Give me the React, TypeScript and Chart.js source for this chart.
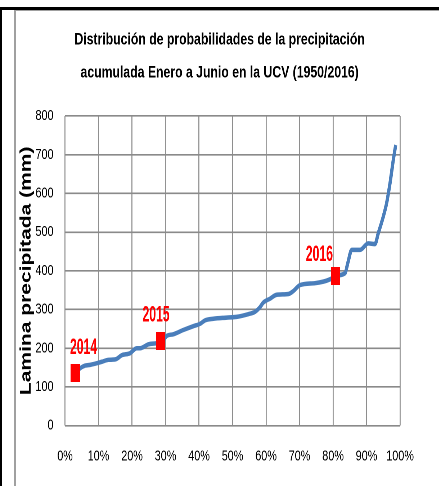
import React, { useEffect, useRef } from 'react';
import { Chart, registerables } from 'chart.js';

Chart.register(...registerables);

// ---- data ----
const PROBABILITY = [3.0, 4.5, 6.0, 7.5, 9.0, 11.0, 13.0, 15.0, 17.0, 19.4, 21.4, 22.4, 24.9, 27.4, 28.9, 30.4, 32.3, 35.3, 38.3, 40.3, 41.8, 44.3, 48.3, 51.2, 54.7, 56.7, 58.2, 59.2, 61.2, 63.2, 66.7, 68.2, 70.1, 74.6, 77.1, 79.1, 81.1, 83.6, 84.4, 85.6, 88.1, 90.5, 92.5, 93.5, 95.0, 96.0, 97.0, 98.0, 98.7];
const PRECIPITATION = [135, 148, 155, 157, 160, 165, 170, 171, 182, 187, 200, 200, 210, 213, 217, 232, 236, 247, 257, 263, 272, 276, 279, 281, 288, 294, 306, 318, 328, 338, 340, 348, 363, 368, 372, 378, 388, 394, 420, 454, 454, 471, 469, 497, 540, 575, 626, 687, 725];

const MARKER_YEARS = ['2014', '2015', '2016'];
const MARKER_PROBABILITY = [3.0, 28.5, 80.7];
const MARKER_PRECIPITATION = [136, 219, 387];

const TITLE_LINES = ['Distribución de probabilidades de la precipitación', 'acumulada Enero a Junio en la UCV (1950/2016)'];
const Y_TITLE = 'Lamina precipitada (mm)';

// ---- layout constants (pre-transform px) ----
const SCALE_X = 0.72;
const W = 610;
const H = 486;
const LABEL_OFFSETS = [[11.8, -19.2], [-6.2, -19.3], [-22.2, -15]];

function makeMarker() {
  const c = document.createElement('canvas');
  c.width = 13;
  c.height = 18;
  const g = c.getContext('2d')!;
  g.fillStyle = '#ff0000';
  g.fillRect(0, 0, 13, 18);
  return c;
}

const yearLabels = {
  id: 'yearLabels',
  afterDatasetsDraw(chart: any) {
    const meta = chart.getDatasetMeta(1);
    const ctx = chart.ctx;
    ctx.save();
    ctx.font = 'bold 22px "Liberation Sans", Arial, sans-serif';
    ctx.fillStyle = '#ff0000';
    ctx.textAlign = 'center';
    ctx.textBaseline = 'alphabetic';
    meta.data.forEach((pt: any, i: number) => {
      const [dx, dy] = LABEL_OFFSETS[i];
      ctx.save();
      ctx.translate(pt.x + dx, pt.y + dy);
      ctx.scale(0.77, 1);
      ctx.fillText(MARKER_YEARS[i], 0, 0);
      ctx.restore();
    });
    ctx.restore();
  },
};

export default function App() {
  const ref = useRef<HTMLCanvasElement>(null);

  useEffect(() => {
    if (!ref.current) return;
    const marker = makeMarker();
    const chart = new Chart(ref.current, {
      type: 'line',
      data: {
        datasets: [
          {
            label: 'Distribución',
            data: PROBABILITY.map((p, i) => ({ x: p, y: PRECIPITATION[i] })),
            borderColor: '#4a7ebb',
            backgroundColor: '#4a7ebb',
            borderWidth: 4.5,
            pointRadius: 0,
            cubicInterpolationMode: 'monotone',
            order: 2,
          },
          {
            label: 'Años',
            data: MARKER_PROBABILITY.map((p, i) => ({ x: p, y: MARKER_PRECIPITATION[i] })),
            showLine: false,
            pointStyle: marker as any,
            pointRadius: 9,
            order: 1,
          },
        ],
      },
      options: {
        animation: false,
        responsive: true,
        maintainAspectRatio: false,
        devicePixelRatio: 2,
        layout: { padding: 0 },
        plugins: {
          legend: { display: false },
          tooltip: { enabled: false },
          title: {
            display: true,
            text: TITLE_LINES,
            color: '#000000',
            font: { family: '"Liberation Sans", Arial, sans-serif', size: 17, weight: 'bold', lineHeight: 33 / 17 },
            padding: { top: 23.5, bottom: 26.5 },
          },
        },
        scales: {
          x: {
            type: 'linear',
            min: 0,
            max: 100,
            grid: { color: '#8e8e8e', lineWidth: 1.4, drawTicks: false },
            border: { display: false },
            ticks: {
              stepSize: 10,
              padding: 22,
              color: '#000000',
              font: { family: '"Liberation Sans", Arial, sans-serif', size: 15 },
              callback: (v: any) => v + '%',
              maxRotation: 0,
            },
            afterFit: (s: any) => { s.height = 60.4; },
          },
          y: {
            type: 'linear',
            min: 0,
            max: 800,
            grid: { color: '#8a8a8a', lineWidth: 1.6, drawTicks: false },
            border: { display: false },
            ticks: {
              stepSize: 100,
              padding: 16,
              color: '#000000',
              font: { family: '"Liberation Sans", Arial, sans-serif', size: 15 },
            },
            title: {
              display: true,
              text: Y_TITLE,
              color: '#000000',
              font: { family: '"Liberation Sans", Arial, sans-serif', size: 21, weight: 'bold' },
              padding: { top: 24.2, bottom: 0 },
            },
            afterFit: (s: any) => { s.width = 90.3; },
          },
          y2: {
            type: 'linear',
            position: 'right',
            display: true,
            grid: { display: false, drawTicks: false },
            border: { display: false },
            ticks: { display: false },
            afterFit: (s: any) => { s.width = 54.4; },
          },
        },
      },
      plugins: [yearLabels],
    } as any);
    return () => chart.destroy();
  }, []);

  return (
    <div style={{ position: 'absolute', left: 0, top: 0, width: 439, height: H, overflow: 'hidden', background: '#ffffff' }}>
      <div style={{ position: 'absolute', left: 0, top: 0, width: W, height: H, transform: `scaleX(${SCALE_X})`, transformOrigin: '0 0' }}>
        <canvas ref={ref} />
      </div>
      <div style={{ position: 'absolute', left: 0, top: 7, width: 439, height: 3, background: '#000' }} />
      <div style={{ position: 'absolute', left: 0, top: 7, width: 2, height: H - 7, background: '#000' }} />
      <div style={{ position: 'absolute', left: 14, top: 10, width: 425, height: 1, background: '#a0a0a0' }} />
      <div style={{ position: 'absolute', left: 14, top: 10, width: 2, height: H - 10, background: '#a0a0a0' }} />
    </div>
  );
}
